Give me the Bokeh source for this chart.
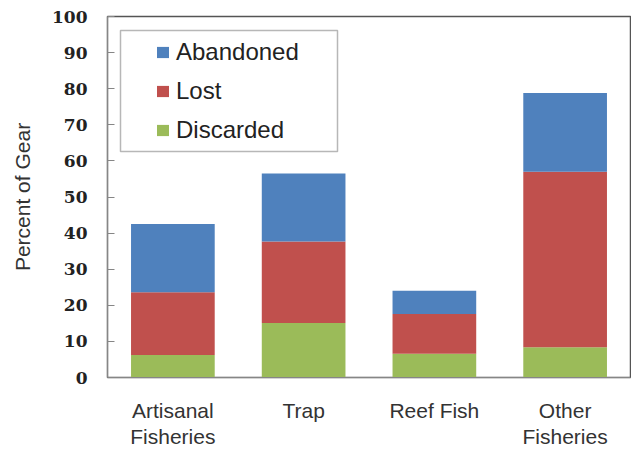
from bokeh.plotting import figure
from bokeh.models import (ColumnDataSource, FactorRange, Range1d, Legend, LegendItem,
                          BoxAnnotation, FixedTicker, CategoricalAxis, CustomJSTickFormatter)
from bokeh.embed import file_html
from bokeh.resources import INLINE

# Percent of gear by fishery type, split by fate
categories = ["Artisanal Fisheries", "Trap", "Reef Fish", "Other Fisheries"]
label_line1 = ["Artisanal", "Trap", "Reef Fish", "Other"]
label_line2 = ["Fisheries", "", "", "Fisheries"]
discarded = [6.2, 15.1, 6.6, 8.4]
lost = [17.4, 22.6, 11.0, 48.6]
abandoned = [18.9, 18.8, 6.4, 21.8]
y_ticks = [0, 10, 20, 30, 40, 50, 60, 70, 80, 90, 100]

BLUE = "#4F81BD"
RED = "#C0504D"
GREEN = "#9BBB59"

source = ColumnDataSource(dict(cat=categories, Discarded=discarded,
                               Lost=lost, Abandoned=abandoned))

p = figure(width=631, height=450, x_range=FactorRange(*categories, range_padding=0),
           y_range=Range1d(0, 100), output_backend="svg", toolbar_location=None,
           min_border_left=107, min_border_right=1, min_border_top=16, min_border_bottom=72)

rs = p.vbar_stack(["Discarded", "Lost", "Abandoned"], x="cat", width=0.64,
                  color=[GREEN, RED, BLUE], line_color=None, source=source)

p.xgrid.grid_line_color = None
p.ygrid.grid_line_color = None
p.outline_line_color = "#555555"
p.outline_line_width = 1.5

# y axis
p.yaxis.ticker = FixedTicker(ticks=y_ticks)
p.yaxis.axis_label = "Percent of Gear"
p.yaxis.axis_label_text_font = "Liberation Sans"
p.yaxis.axis_label_text_font_style = "normal"
p.yaxis.axis_label_text_font_size = "21px"
p.yaxis.axis_label_text_color = "#333333"
p.yaxis.axis_label_standoff = 15
p.yaxis.major_label_text_font = "DejaVu Serif"
p.yaxis.major_label_text_font_style = "bold"
p.yaxis.major_label_text_font_size = "17px"
p.yaxis.major_label_text_color = "#222222"
p.yaxis.major_label_standoff = 20
p.yaxis.major_tick_in = 7
p.yaxis.major_tick_out = 0
p.yaxis.minor_tick_line_color = None
p.yaxis.axis_line_color = "#868686"
p.yaxis.major_tick_line_color = "#868686"


def style_x(ax, lines, standoff):
    ax.formatter = CustomJSTickFormatter(
        args=dict(names=categories, lines=lines),
        code="const i = names.indexOf(tick); return i < 0 ? '' : lines[i];")
    ax.major_label_text_font = "Liberation Sans"
    ax.major_label_text_font_size = "21px"
    ax.major_label_text_color = "#333333"
    ax.major_label_standoff = standoff
    ax.major_tick_line_color = None
    ax.major_tick_out = 0
    ax.major_tick_in = 0


# category labels: first line on the main axis, second line on an axis beneath it
xa = p.xaxis[0]
style_x(xa, label_line1, 21)
xa.axis_line_color = "#868686"

xb = CategoricalAxis()
style_x(xb, label_line2, 0)
xb.axis_line_color = None
p.add_layout(xb, "below")

# legend (no frame of its own; a boxed outline is drawn around it)
items = [LegendItem(label="Abandoned", renderers=[rs[2]]),
         LegendItem(label="Lost", renderers=[rs[1]]),
         LegendItem(label="Discarded", renderers=[rs[0]])]
legend = Legend(items=items, location=(48, 233), padding=0, margin=0,
                border_line_alpha=0, background_fill_alpha=0,
                glyph_width=15, glyph_height=14, label_standoff=6,
                label_text_font="Liberation Sans", label_text_font_size="24px",
                label_text_color="#222222", spacing=11)
p.add_layout(legend)

frame_box = BoxAnnotation(left=120, right=337, top=30, bottom=151,
                          left_units="canvas", right_units="canvas",
                          top_units="canvas", bottom_units="canvas",
                          fill_alpha=0, line_color="#111111", line_width=1.5)
p.add_layout(frame_box)

open("out.html", "w").write(file_html(p, INLINE))
